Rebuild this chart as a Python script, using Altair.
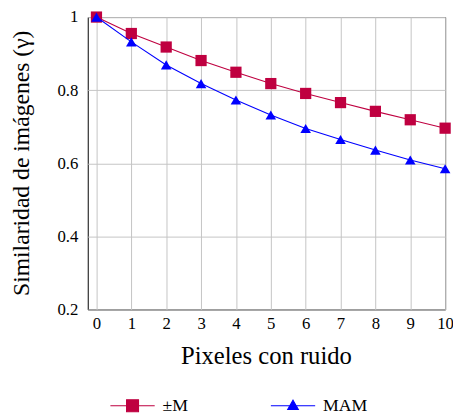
import altair as alt
import pandas as pd

# Data
pixeles = [0, 1, 2, 3, 4, 5, 6, 7, 8, 9, 10]
serie_pm = [1.0, 0.955, 0.918, 0.881, 0.849, 0.818, 0.791, 0.766, 0.742, 0.719, 0.696]
serie_mam = [1.0, 0.932, 0.869, 0.818, 0.773, 0.732, 0.695, 0.665, 0.636, 0.609, 0.585]
nombres = ["±M", "MAM"]
colores = ["#BF0040", "#0000FF"]
x_ticks = [0, 1, 2, 3, 4, 5, 6, 7, 8, 9, 10]
y_ticks = [0.2, 0.4, 0.6, 0.8, 1.0]

rows = []
for nombre, vals in zip(nombres, [serie_pm, serie_mam]):
    for xv, yv in zip(pixeles, vals):
        rows.append({"x": xv, "y": yv, "serie": nombre})
df = pd.DataFrame(rows)

FONT = "Liberation Serif, Times New Roman, DejaVu Serif, serif"
H = 297

xenc = alt.X(
    "x:Q",
    scale=alt.Scale(domain=[-0.25, 10], nice=False, zero=False),
    axis=alt.Axis(
        values=x_ticks, title="Pixeles con ruido", ticks=False, tickSize=0,
        labelPadding=19, labelBaseline="alphabetic", labelFont=FONT, labelFontSize=17,
        labelColor="black", titleFont=FONT, titleFontSize=25, titleFontWeight="normal",
        titleColor="black", titleX=181, titleY=55, titleBaseline="alphabetic",
        gridColor="#c4c4c4", gridWidth=1, domain=False, labelFlush=False,
    ),
)
yenc = alt.Y(
    "y:Q",
    scale=alt.Scale(domain=[0.2, 1.0], nice=False, zero=False),
    axis=alt.Axis(
        values=y_ticks, format=".1~f", title="Similaridad de imágenes (γ)", ticks=False,
        tickSize=0, labelPadding=10, labelFont=FONT, labelFontSize=17, labelColor="black",
        titleFont=FONT, titleFontSize=24, titleFontWeight="normal", titleColor="black",
        titleX=-60, titleY=148, titleBaseline="alphabetic", titleAngle=270,
        gridColor="#c4c4c4", gridWidth=1, domain=False, labelFlush=False,
    ),
)

base = alt.Chart(df)
layers = []
shapes = ["square", "triangle-up"]
sizes = [130, 115]
for nombre, color, shp, sz in zip(nombres, colores, shapes, sizes):
    sub = base.transform_filter(alt.datum.serie == nombre)
    layers.append(sub.mark_line(color=color, strokeWidth=1.1).encode(x=xenc, y=yenc))
    layers.append(
        sub.mark_point(shape=shp, filled=True, color=color, size=sz, opacity=1).encode(x=xenc, y=yenc)
    )

paths = [
    "M-1,0H1M-0.27,-0.27H0.27V0.27H-0.27Z",
    "M-1,0H1M0,-0.25L0.24,0.17L-0.24,0.17Z",
]
leg = alt.Legend(
    title=None, orient="none", legendX=22, legendY=371, direction="horizontal",
    columns=2, columnPadding=81, labelOffset=7, labelFont=FONT, labelFontSize=18,
    labelColor="black", symbolSize=2025, symbolOpacity=1, symbolStrokeWidth=1.1,
    padding=0,
)
legend_layer = base.mark_point(filled=True, opacity=0).encode(
    x=xenc, y=yenc,
    fill=alt.Fill("serie:N", scale=alt.Scale(domain=nombres, range=colores), legend=leg),
    stroke=alt.Stroke("serie:N", scale=alt.Scale(domain=nombres, range=colores), legend=leg),
    shape=alt.Shape("serie:N", scale=alt.Scale(domain=nombres, range=paths), legend=leg),
)

chart = alt.layer(legend_layer, *layers).properties(
    width=363, height=H,
    autosize=alt.AutoSizeParams(type="none"),
    padding={"left": 81, "top": 6, "right": 8, "bottom": 104},
).configure_view(stroke="black", strokeWidth=1)

chart.save("out.html", embed_options={"renderer": "svg", "actions": False})
